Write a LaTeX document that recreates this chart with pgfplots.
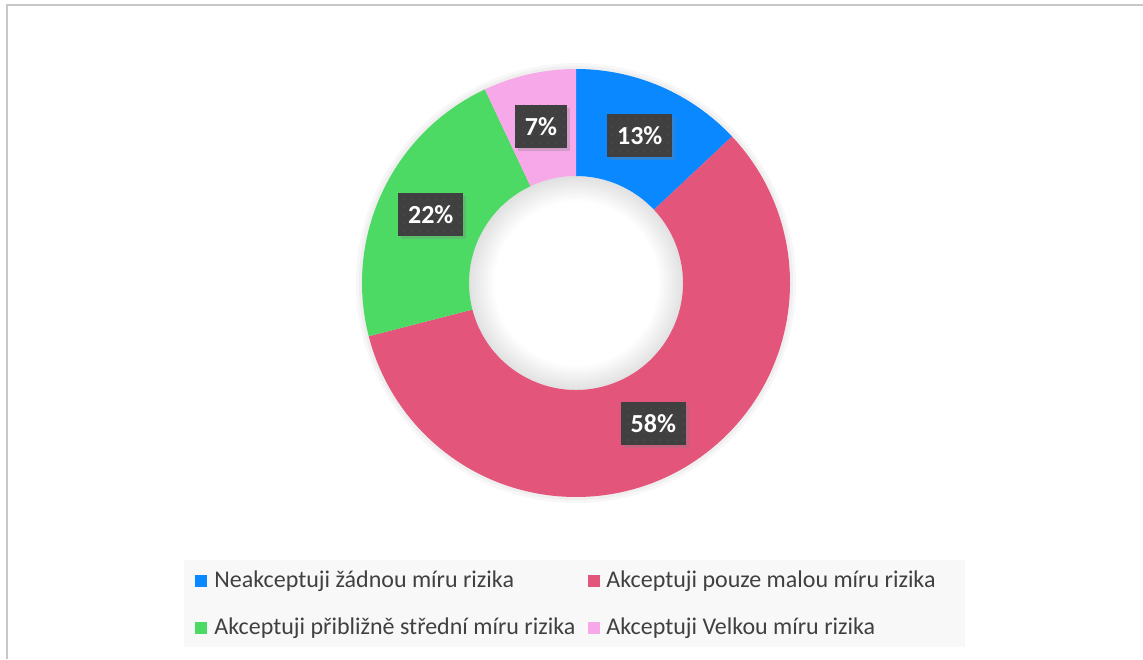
\documentclass[border=0pt]{standalone}
\usepackage{fontspec}
\setmainfont{Carlito}
\usepackage{pgfplots}
\pgfplotsset{compat=1.18}
\usepackage{pgfplotstable}
\usetikzlibrary{shadows,patterns.meta}

\definecolor{cblue}{HTML}{0A88FF}
\definecolor{cred}{HTML}{E3557B}
\definecolor{cgreen}{HTML}{4CD964}
\definecolor{cpink}{HTML}{F7A8E8}
\definecolor{lblgray}{HTML}{404040}
\definecolor{dotgray}{HTML}{4C4C4C}
\definecolor{txtgray}{HTML}{404040}
\definecolor{frame}{HTML}{C8C8C8}
\definecolor{legbg}{HTML}{F8F8F8}

\pgfdeclareradialshading{holeshade}{\pgfpoint{0bp}{0bp}}{color(0bp)=(white); color(19bp)=(white); color(25bp)=(black!12); color(50bp)=(black!12)}

\pgfplotstableread{
value
13
58
22
7
}\donutdata

\pgfplotstablegetelem{0}{value}\of\donutdata \let\va\pgfplotsretval
\pgfplotstablegetelem{1}{value}\of\donutdata \let\vb\pgfplotsretval
\pgfplotstablegetelem{2}{value}\of\donutdata \let\vc\pgfplotsretval
\pgfplotstablegetelem{3}{value}\of\donutdata \let\vd\pgfplotsretval
\pgfmathsetmacro\tot{\va+\vb+\vc+\vd}
\pgfmathsetmacro\sc{360/\tot}
\pgfmathsetmacro\aA{90}
\pgfmathsetmacro\aB{\aA-\sc*\va}
\pgfmathsetmacro\aC{\aB-\sc*\vb}
\pgfmathsetmacro\aD{\aC-\sc*\vc}
\pgfmathsetmacro\aE{\aD-\sc*\vd}
\pgfmathsetmacro\mA{(\aA+\aB)/2}
\pgfmathsetmacro\mB{(\aB+\aC)/2}
\pgfmathsetmacro\mC{(\aC+\aD)/2}
\pgfmathsetmacro\mD{(\aD+\aE)/2}

\def\Ro{107pt}
\def\Ri{53.5pt}
\def\Rm{80.25pt}

\tikzset{
  lbl/.style={fill=lblgray, text=white, font=\bfseries\fontsize{13}{15}\selectfont,
    inner xsep=5pt, inner ysep=0pt, minimum height=21.5pt,
    postaction={pattern={Dots[distance=4pt, radius=0.5pt, xshift=2pt, yshift=2pt]}, pattern color=dotgray},
    drop shadow={opacity=0.3, shadow xshift=1.5pt, shadow yshift=-1.5pt}},
  legtxt/.style={anchor=west, inner sep=0pt, text=txtgray, font=\fontsize{12}{14}\selectfont},
}

\newcommand\slice[3]{%
  \fill[#3] ([shift={(#1:\Ro)}]axis cs:576,376) arc[start angle=#1, end angle=#2, radius=\Ro]
    -- ([shift={(#2:\Ri)}]axis cs:576,376) arc[start angle=#2, end angle=#1, radius=\Ri] -- cycle;}

\begin{document}
\begin{tikzpicture}
\begin{axis}[at={(0,0)}, anchor=south west, scale only axis,
  width=571.5pt, height=329.5pt,
  xmin=0, xmax=1143, ymin=0, ymax=659,
  hide axis, clip=false]
  % background and frame
  \fill[white] (axis cs:0,0) rectangle (axis cs:1143,659);
  \draw[frame, line width=1pt] (axis cs:7,0) -- (axis cs:7,654) -- (axis cs:1143,654);
  % soft glow around donut
  \fill[black, opacity=0.03] (axis cs:576,376) circle[radius=110pt];
  \fill[black, opacity=0.03] (axis cs:576,376) circle[radius=108.5pt];
  % hole shading
  \shade[shading=holeshade] (axis cs:576,376) circle[radius=\Ri];
  % slices
  \slice{\aA}{\aB}{cblue}
  \slice{\aB}{\aC}{cred}
  \slice{\aC}{\aD}{cgreen}
  \slice{\aD}{\aE}{cpink}
  % labels
  \node[lbl] at ([shift={(\mA:\Rm)}]axis cs:576,376) {\va\%};
  \node[lbl] at ([shift={(\mB:\Rm)}]axis cs:576,376) {\vb\%};
  \node[lbl] at ([shift={(\mC:\Rm)}]axis cs:576,376) {\vc\%};
  \node[lbl] at ([shift={(\mD:\Rm)}]axis cs:576,376) {\vd\%};
  % legend
  \fill[legbg] (axis cs:184,12) rectangle (axis cs:965,99);
  \fill[cblue] (axis cs:195,72) rectangle (axis cs:207,84);
  \node[legtxt] at (axis cs:214,78) {Neakceptuji žádnou míru rizika};
  \fill[cred] (axis cs:588,72) rectangle (axis cs:600,84);
  \node[legtxt] at (axis cs:606,78) {Akceptuji pouze malou míru rizika};
  \fill[cgreen] (axis cs:195,25) rectangle (axis cs:207,37);
  \node[legtxt] at (axis cs:214,31) {Akceptuji přibližně střední míru rizika};
  \fill[cpink] (axis cs:588,25) rectangle (axis cs:600,37);
  \node[legtxt] at (axis cs:606,31) {Akceptuji Velkou míru rizika};
\end{axis}
\pgfresetboundingbox
\path (0,0) rectangle (571.5pt,329.5pt);
\end{tikzpicture}
\end{document}
